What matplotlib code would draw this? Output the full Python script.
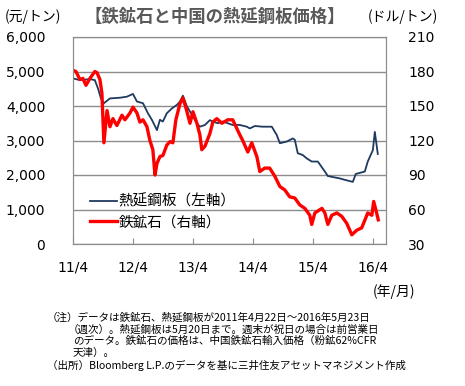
import pandas as pd
import matplotlib.pyplot as plt
from matplotlib.ticker import FuncFormatter, MultipleLocator

# 熱延鋼板 (元/トン, 左軸)
hrc_dates = [
    "2011-04-22", "2011-06-03", "2011-08-03", "2011-09-02", "2011-09-21", "2011-10-09",
    "2011-10-27", "2011-12-03", "2012-02-02", "2012-03-15", "2012-04-21", "2012-05-15",
    "2012-06-21", "2012-07-21", "2012-08-14", "2012-09-14", "2012-10-02", "2012-10-20",
    "2012-11-13", "2012-12-14", "2013-01-13", "2013-02-01", "2013-02-19", "2013-03-16",
    "2013-04-03", "2013-04-21", "2013-05-15", "2013-06-02", "2013-07-03", "2013-08-02",
    "2013-08-20", "2013-09-19", "2013-10-20", "2013-11-19", "2013-12-19", "2014-01-31",
    "2014-03-15", "2014-04-02", "2014-05-03", "2014-06-20", "2014-08-14", "2014-09-13",
    "2014-10-02", "2014-11-13", "2014-12-20", "2015-01-01", "2015-01-19", "2015-02-18",
    "2015-03-15", "2015-04-14", "2015-05-21", "2015-07-03", "2015-07-21", "2015-10-02",
    "2015-11-01", "2015-12-20", "2016-01-07", "2016-03-02", "2016-03-20", "2016-04-20",
    "2016-05-02", "2016-05-20",
]
hrc_values = [
    4800, 4750, 4780, 4750, 4510, 4220,
    4080, 4220, 4240, 4270, 4350, 4130,
    4080, 3790, 3600, 3300, 3600, 3550,
    3790, 3930, 4030, 4130, 4300, 3980,
    3840, 3690, 3500, 3400, 3450, 3590,
    3550, 3500, 3550, 3500, 3450, 3450,
    3400, 3350, 3420, 3400, 3400, 3160,
    2920, 2970, 3060, 3020, 2630, 2580,
    2480, 2390, 2390, 2100, 1970, 1900,
    1860, 1800, 2030, 2100, 2390, 2720,
    3250, 2610,
]

# 鉄鉱石 (ドル/トン, 右軸)
ore_dates = [
    "2011-04-22", "2011-05-10", "2011-06-03", "2011-06-21", "2011-07-10", "2011-08-03",
    "2011-09-02", "2011-09-15", "2011-10-03", "2011-10-15", "2011-10-27", "2011-11-15",
    "2011-12-03", "2011-12-21", "2012-01-14", "2012-02-14", "2012-03-03", "2012-04-03",
    "2012-04-21", "2012-05-15", "2012-06-02", "2012-06-21", "2012-07-15", "2012-08-02",
    "2012-08-20", "2012-09-02", "2012-09-14", "2012-10-02", "2012-10-20", "2012-11-13",
    "2012-12-02", "2012-12-20", "2013-01-07", "2013-02-01", "2013-02-19", "2013-03-10",
    "2013-04-03", "2013-04-21", "2013-05-15", "2013-06-02", "2013-06-14", "2013-07-03",
    "2013-08-02", "2013-08-20", "2013-09-13", "2013-10-14", "2013-11-19", "2013-12-19",
    "2014-01-31", "2014-02-18", "2014-03-21", "2014-04-14", "2014-05-15", "2014-06-02",
    "2014-07-02", "2014-08-01", "2014-09-01", "2014-10-02", "2014-11-01", "2014-12-01",
    "2015-01-01", "2015-01-31", "2015-03-03", "2015-04-02", "2015-04-14", "2015-05-03",
    "2015-06-15", "2015-07-03", "2015-07-21", "2015-08-14", "2015-09-14", "2015-10-14",
    "2015-11-13", "2015-12-14", "2016-01-13", "2016-02-12", "2016-03-20", "2016-04-14",
    "2016-04-25", "2016-05-13", "2016-05-23",
]
ore_values = [
    181, 180, 173, 174, 168, 174,
    180, 179, 173, 161, 118, 146,
    132, 139, 133, 142, 138, 144,
    149, 144, 136, 138, 132, 120,
    112, 90, 100, 106, 107, 116,
    119, 118, 138, 152, 157, 148,
    135, 145, 135, 125, 112, 115,
    126, 136, 139, 135, 138, 138,
    125, 120, 110, 118, 106, 93,
    96, 96, 89, 80, 77, 71,
    70, 64, 61, 55, 47, 57,
    61, 57, 47, 55, 57, 54,
    48, 38, 42, 44, 57, 55,
    67, 57, 51,
]

tick_dates = ["2011-04-22", "2012-04-21", "2013-04-21", "2014-04-21", "2015-04-21", "2016-04-20"]
tick_labels = ["11/4", "12/4", "13/4", "14/4", "15/4", "16/4"]

notes = [
    "（注）データは鉄鉱石、熱延鋼板が2011年4月22日～2016年5月23日",
    "（週次）。熱延鋼板は5月20日まで。週末が祝日の場合は前営業日",
    "のデータ。鉄鉱石の価格は、中国鉄鉱石輸入価格（粉鉱62%CFR",
    "天津）。",
    "（出所）Bloomberg L.P.のデータを基に三井住友アセットマネジメント作成",
]
notes_x = [47, 68, 73, 73, 47]

jp = ["Noto Sans CJK JP", "DejaVu Sans"]
grid_c = "#8c8c8c"

fig = plt.figure(figsize=(4.65, 3.86), dpi=100)
ax = fig.add_axes([73 / 465, 1 - 244 / 386, 313 / 465, 207 / 386])
ax2 = ax.twinx()

l1, = ax.plot(pd.to_datetime(hrc_dates), hrc_values, color="#1f3a5f", lw=1.3,
              label="熱延鋼板（左軸）")
l2, = ax2.plot(pd.to_datetime(ore_dates), ore_values, color="#ff0000", lw=2.4,
               label="鉄鉱石（右軸）")

ax.set_xlim(pd.Timestamp("2011-04-22"), pd.Timestamp("2016-07-09"))
ax.set_ylim(0, 6000)
ax2.set_ylim(30, 210)
ax.yaxis.set_major_locator(MultipleLocator(1000))
ax.yaxis.set_major_formatter(FuncFormatter(lambda v, p: f"{int(v):,}"))
ax2.yaxis.set_major_locator(MultipleLocator(30))
ax.grid(axis="y", color=grid_c, lw=1)
ax.set_axisbelow(True)

ax.set_xticks(pd.to_datetime(tick_dates))
ax.set_xticklabels(tick_labels)
ax.tick_params(axis="x", direction="in", length=4, color=grid_c, pad=12, labelsize=10)
ax.tick_params(axis="y", length=0, pad=20, labelsize=10)
ax2.tick_params(axis="y", length=0, pad=16, labelsize=10)
for a in (ax, ax2):
    for s in a.spines.values():
        s.set_color(grid_c)

ax2.legend(handles=[l1, l2], loc="lower left", bbox_to_anchor=(0.054, 0.07),
           frameon=False, prop={"family": jp, "size": 10.5}, handlelength=1.85,
           handletextpad=0.1, labelspacing=0.45, borderpad=0, borderaxespad=0)

fig.text(215 / 465, 1 - 17 / 386, "【鉄鉱石と中国の熱延鋼板価格】", ha="center", va="center",
         family=jp, fontsize=12.5, fontweight="bold", color="#595959")
fig.text(33 / 465, 1 - 17 / 386, "(元/トン)", ha="center", va="center", family=jp, fontsize=10)
fig.text(403 / 465, 1 - 17 / 386, "(ドル/トン)", ha="center", va="center", family=jp, fontsize=10)
fig.text(415 / 465, 1 - 292 / 386, "(年/月)", ha="right", va="center", family=jp, fontsize=10)

for i, line in enumerate(notes):
    fig.text(notes_x[i] / 465, 1 - (317 + 12 * i) / 386, line, ha="left", va="center",
             family=jp, fontsize=7.6)

fig.savefig("out.png", dpi=100)
